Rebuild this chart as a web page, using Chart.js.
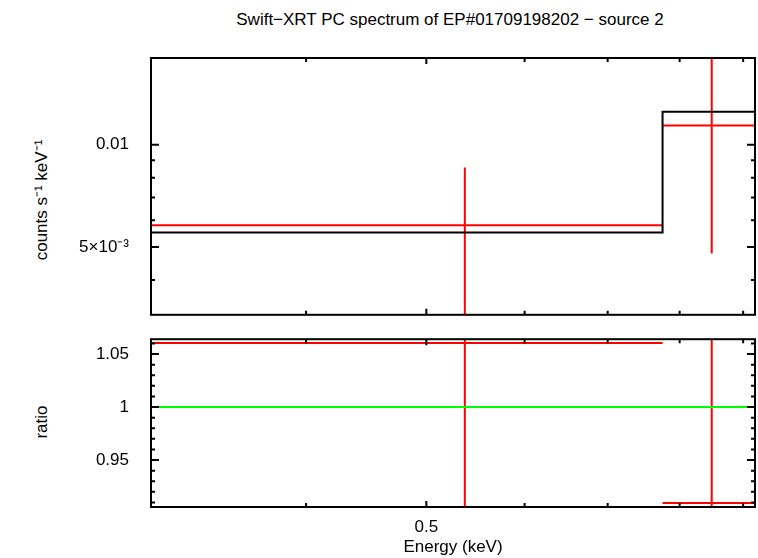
<!DOCTYPE html>
<html><head><meta charset="utf-8">
<script src="https://cdn.jsdelivr.net/npm/chart.js@4"></script>
<style>
body{margin:0;width:758px;height:558px;background:#fff;position:relative;overflow:hidden;font-family:"Liberation Sans",Arial,sans-serif}
canvas{position:absolute;left:0}
.t{position:absolute;font-size:17px;color:#000;white-space:nowrap}
.rot{transform:rotate(-90deg);transform-origin:center}
</style></head><body>
<div class="t" style="left:0;width:900px;text-align:center;top:10px">Swift−XRT PC spectrum of EP#01709198202 − source 2</div>
<div class="t rot" style="left:-33px;top:190px;width:150px;text-align:center;line-height:20px">counts s⁻¹ keV⁻¹</div>
<div class="t rot" style="left:12px;top:412px;width:60px;text-align:center;line-height:20px">ratio</div>
<div style="position:absolute;left:0;top:0;width:758px;height:339px"><canvas id="top"></canvas></div>
<div style="position:absolute;left:0;top:315px;width:758px;height:243px"><canvas id="bot"></canvas></div>
<script>
// bins (keV)
const binLo = [0.3, 0.775];
const binHi = [0.775, 0.95];
const energy = [0.537, 0.849];
// data (counts s-1 keV-1)
const rate = [0.0058, 0.01139];
const rateLo = [0.002, 0.00479];
const rateHi = [0.00857, 0.025];
// model
const model = [0.00552, 0.0125];
// ratio
const ratio = [1.0604, 0.9095];
const ratioLo = [0.85, 0.85];
const ratioHi = [1.1, 1.1];
const xTicksMinor = [0.4, 0.6, 0.7, 0.8, 0.9];
const xTicksMajor = [0.5];
const yTicksTop = [0.005, 0.01];
const yMinorTop = [0.004, 0.006, 0.007, 0.008, 0.009];
const yTicksBot = [0.95, 1, 1.05];
const yMinorBot = [0.91, 0.92, 0.93, 0.94, 0.96, 0.97, 0.98, 0.99, 1.01, 1.02, 1.03, 1.04, 1.06];

const RED = '#ff0000';
function line(pts, color) {
  return {data: pts, borderColor: color, borderWidth: 2, pointRadius: 0, showLine: true, fill: false};
}
function errSets(y, lo, hi) {
  const out = [];
  for (let i = 0; i < energy.length; i++) {
    out.push(line([{x: binLo[i], y: y[i]}, {x: binHi[i], y: y[i]}], RED));
    out.push(line([{x: energy[i], y: lo[i]}, {x: energy[i], y: hi[i]}], RED));
  }
  return out;
}
function stepPts() {
  const pts = [];
  for (let i = 0; i < model.length; i++) {
    pts.push({x: binLo[i], y: model[i]}, {x: binHi[i], y: model[i]});
  }
  return pts;
}

function framePlugin(major, minor) {
  return {
    id: 'frame',
    afterDraw(c) {
      const ctx = c.ctx, a = c.chartArea, xs = c.scales.x, ys = c.scales.y;
      ctx.save();
      ctx.strokeStyle = '#000'; ctx.lineWidth = 2;
      ctx.strokeRect(a.left, a.top, a.right - a.left, a.bottom - a.top);
      ctx.beginPath();
      const tx = (v, len) => { const p = xs.getPixelForValue(v);
        ctx.moveTo(p, a.top); ctx.lineTo(p, a.top + len);
        ctx.moveTo(p, a.bottom); ctx.lineTo(p, a.bottom - len); };
      const ty = (v, len) => { const p = ys.getPixelForValue(v);
        if (p < a.top || p > a.bottom) return;
        ctx.moveTo(a.left, p); ctx.lineTo(a.left + len, p);
        ctx.moveTo(a.right, p); ctx.lineTo(a.right - len, p); };
      xTicksMajor.forEach(v => tx(v, 6));
      xTicksMinor.forEach(v => tx(v, 4));
      major.forEach(v => ty(v, 8));
      minor.forEach(v => ty(v, 4));
      ctx.stroke();
      ctx.restore();
    }
  };
}

const font = {family: '"Liberation Sans", Arial, sans-serif', size: 17};
const xScale = (show) => ({
  type: 'logarithmic', min: 0.3, max: 0.92, display: show,
  grid: {display: false}, border: {display: false},
  afterBuildTicks: s => { s.ticks = xTicksMajor.map(v => ({value: v})); },
  ticks: {color: '#000', font, padding: 2, maxRotation: 0, callback: v => String(v)},
  title: {display: show, text: 'Energy (keV)', color: '#000', font, padding: 0},
  afterFit: s => { s.height = show ? 51 : 0; }
});
const yScale = (type, min, max, ticks, fmt) => ({
  type, min, max,
  grid: {display: false}, border: {display: false},
  afterBuildTicks: s => { s.ticks = ticks.map(v => ({value: v})); },
  ticks: {color: '#000', font, padding: 14, callback: fmt},
  afterFit: s => { s.width = 151; }
});
const common = {responsive: true, maintainAspectRatio: false, animation: false,
  plugins: {legend: {display: false}, tooltip: {enabled: false}}};

new Chart(document.getElementById('top'), {
  type: 'scatter',
  data: {datasets: [
    line(stepPts(), '#000'),
    ...errSets(rate, rateLo, rateHi)
  ]},
  options: Object.assign({}, common, {
    layout: {padding: {top: 58, right: 3, bottom: 0}},
    scales: {x: xScale(false),
      y: yScale('logarithmic', 0.00316, 0.018, yTicksTop, v => v === 0.01 ? '0.01' : '5×10⁻³')}
  }),
  plugins: [framePlugin(yTicksTop, yMinorTop)]
});

new Chart(document.getElementById('bot'), {
  type: 'scatter',
  data: {datasets: [
    line([{x: 0.3, y: 1}, {x: 0.95, y: 1}], '#00ff00'),
    ...errSets(ratio, ratioLo, ratioHi)
  ]},
  options: Object.assign({}, common, {
    layout: {padding: {top: 0, right: 3, bottom: 0}},
    scales: {x: xScale(true),
      y: yScale('linear', 0.9057, 1.064, yTicksBot, v => String(v))}
  }),
  plugins: [framePlugin(yTicksBot, yMinorBot)]
});
</script>
</body></html>
